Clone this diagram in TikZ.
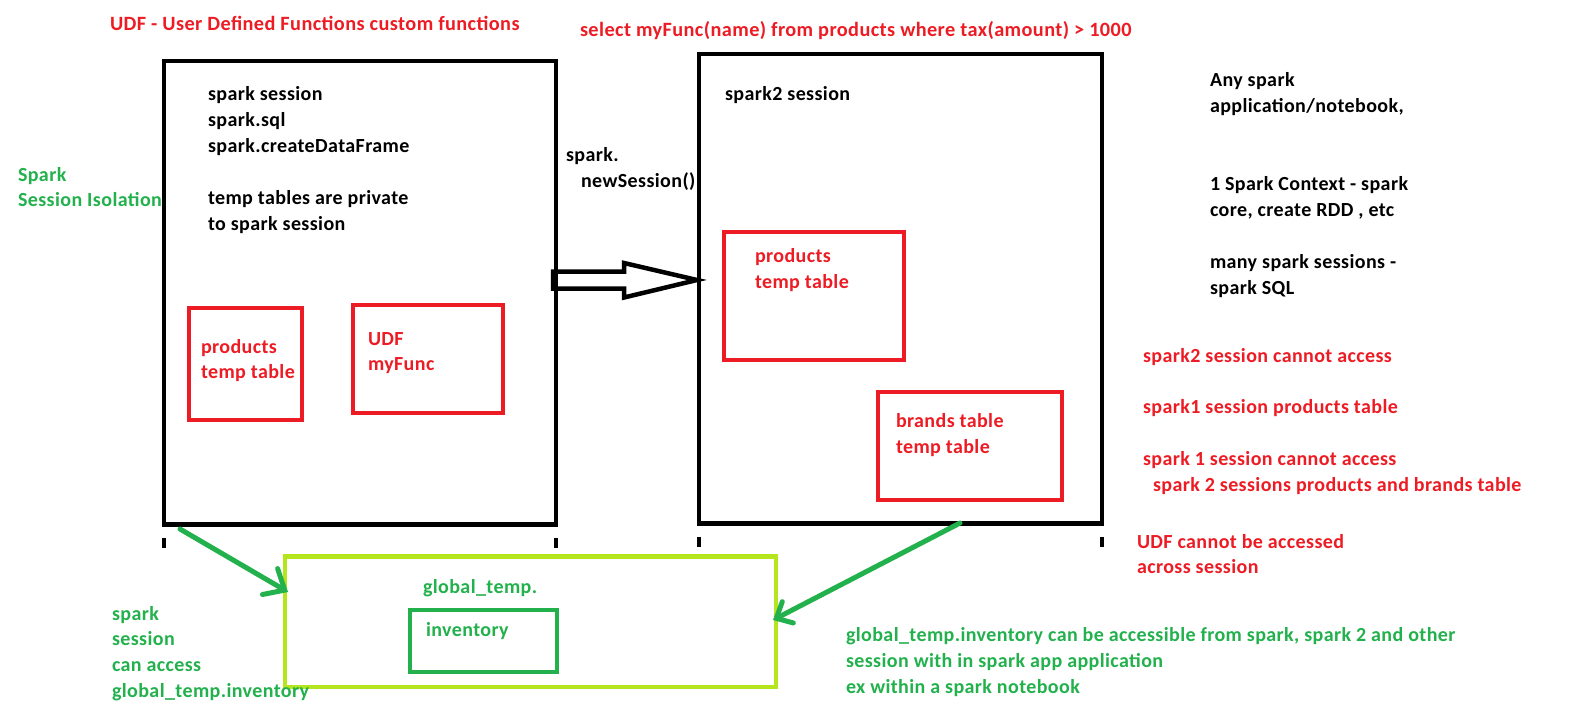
\documentclass[tikz,border=0pt]{standalone}
\usepackage{fontspec}
\setmainfont{Carlito}[LetterSpace=2]
\usetikzlibrary{arrows.meta}
\definecolor{pred}{HTML}{ED1C24}
\definecolor{pgreen}{HTML}{22B14C}
\definecolor{plime}{HTML}{B5E61D}
\begin{document}
\begin{tikzpicture}[x=1pt,y=-1pt,
  txt/.style={anchor=base west, inner sep=0, outer sep=0, font=\fontsize{20}{24}\selectfont\bfseries},
  btxt/.style={txt, text=black},
  rtxt/.style={txt, text=pred},
  gtxt/.style={txt, text=pgreen},
  ttl/.style={rtxt, font=\fontsize{20.3}{24}\selectfont\bfseries},
  sessbox/.style={draw=black, line width=4.5pt, anchor=north west, inner sep=0, outer sep=0},
  tblbox/.style={draw=pred, line width=4.3pt, anchor=north west, inner sep=0, outer sep=0},
  globbox/.style={draw=plime, line width=4.3pt, anchor=north west, inner sep=0, outer sep=0},
  invbox/.style={draw=pgreen, line width=4.3pt, anchor=north west, inner sep=0, outer sep=0},
  tick/.style={draw=black, line width=4.5pt},
  garrow/.style={draw=pgreen, line width=5pt, line cap=round},
]
\useasboundingbox (0,0) rectangle (1594,723);
\fill[white] (0,0) rectangle (1594,723);

% titles
\node[ttl] (title1) at (110,30) {UDF - User Defined Functions custom functions};
\node[ttl] (title2) at (580,36) {select myFunc(name) from products where tax(amount) > 1000};

% session boxes
\node[sessbox, minimum width=392pt, minimum height=463.5pt] (s1) at (164,61) {};
\node[sessbox, minimum width=403pt, minimum height=469.5pt] (s2) at (699,54) {};

% ticks below the boxes
\foreach \c in {s1.south west, s1.south east, s2.south west, s2.south east}{
  \draw[tick] ([yshift=-13pt]\c) -- ([yshift=-23pt]\c);
}

% left session text
\node[btxt] (l1) at (208,100.7) {spark session};
\node[btxt] (l2) at (208,126.7) {spark.sql};
\node[btxt] (l3) at (208,152.7) {spark.createDataFrame};
\node[btxt] (l4) at (208,204) {temp tables are private};
\node[btxt] (l5) at (208,230) {to spark session};

% Spark session isolation
\node[gtxt] (iso1) at (18,181) {Spark};
\node[gtxt] (iso2) at (18,206) {Session Isolation};

% newSession label
\node[btxt] (ns1) at (566,161.5) {spark.};
\node[btxt] (ns2) at (581,187) {newSession()};

% hollow arrow between sessions
\draw[black, line width=4.5pt, line join=miter]
  (553,271.5) -- (624,271.5) -- (624,263) -- (697,280) -- (624,297.5) -- (624,288.7) -- (553,288.7) -- cycle;

% left tables
\node[tblbox, minimum width=113pt, minimum height=112pt] (p1) at (189,308) {};
\node[rtxt] (p1a) at (201,353) {products};
\node[rtxt] (p1b) at (201,378) {temp table};
\node[tblbox, minimum width=150pt, minimum height=108pt] (udf) at (353,305) {};
\node[rtxt] (udfa) at (368,345) {UDF};
\node[rtxt] (udfb) at (368,370) {myFunc};

% right session
\node[btxt] (r0) at (725,100.5) {spark2 session};
\node[tblbox, minimum width=180pt, minimum height=128pt] (p2) at (724,232) {};
\node[rtxt] (p2a) at (755,262) {products};
\node[rtxt] (p2b) at (755,288) {temp table};
\node[tblbox, minimum width=184pt, minimum height=108pt] (br) at (877.7,392.3) {};
\node[rtxt] (bra) at (896,427.7) {brands table};
\node[rtxt] (brb) at (896,453) {temp table};

% right notes
\node[btxt] (n1) at (1210,86) {Any spark};
\node[btxt] (n2) at (1210,112) {application/notebook,};
\node[btxt] (n3) at (1210,190) {1 Spark Context - spark};
\node[btxt] (n4) at (1210,216) {core, create RDD , etc};
\node[btxt] (n5) at (1210,268) {many spark sessions -};
\node[btxt] (n6) at (1210,294) {spark SQL};
\node[rtxt] (m1) at (1143,362) {spark2 session cannot access};
\node[rtxt] (m2) at (1143,413) {spark1 session products table};
\node[rtxt] (m3) at (1143,465) {spark 1 session cannot access};
\node[rtxt] (m4) at (1153,491) {spark 2 sessions products and brands table};
\node[rtxt] (m5) at (1137,548) {UDF cannot be accessed};
\node[rtxt] (m6) at (1137,573) {across session};

% global temp
\node[globbox, minimum width=491pt, minimum height=130.5pt] (glob) at (285,556.5) {};
\node[gtxt] (gt) at (423,593) {global\_temp.};
\node[invbox, minimum width=147pt, minimum height=62pt] (inv) at (410,610) {};
\node[gtxt] (invt) at (426,636) {inventory};

% green notes
\node[gtxt] (g1) at (112,620) {spark};
\node[gtxt] (g2) at (112,645) {session};
\node[gtxt] (g3) at (112,671) {can access};
\node[gtxt] (g4) at (112,697) {global\_temp.inventory};
\node[gtxt] (h1) at (846,641) {global\_temp.inventory can be accessible from spark, spark 2 and other};
\node[gtxt] (h2) at (846,667) {session with in spark app application};
\node[gtxt] (h3) at (846,693) {ex within a spark notebook};

% green arrows
\coordinate (a1s) at (180,529);
\coordinate (a1e) at (288,592);
\coordinate (a2s) at (960,523);
\coordinate (a2e) at (773,620);
\draw[garrow, -{Straight Barb[length=17pt, width=30pt, line cap=round]}] (a1s) -- (a1e);
\draw[garrow, -{Straight Barb[length=13pt, width=24pt, line cap=round]}] (a2s) -- (a2e);
\end{tikzpicture}
\end{document}
